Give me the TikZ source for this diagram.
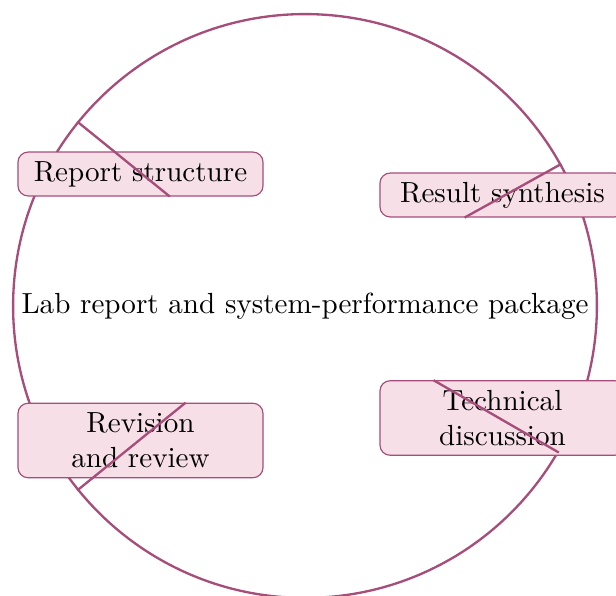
\documentclass[tikz,border=0pt]{standalone}
\usepackage{tikz}
\definecolor{plum}{RGB}{166,77,121}
\definecolor{rose}{RGB}{247,223,232}

\begin{document}
\begin{tikzpicture}[x=0.3436pt,y=-0.3436pt,
        box/.style={rectangle, rounded corners=3.5pt, draw=plum, fill=rose,
                        line width=0.4pt, text width=78pt, align=center,
                        inner xsep=3.1pt, inner ysep=2.5pt, minimum height=15.1pt},
        spoke/.style={draw=plum, line width=0.8pt}]
            \useasboundingbox (0,0) rectangle (616,596);
            \node [circle, draw=plum, line width=0.8pt, inner sep=1pt,
                   minimum size=200.6pt] (hub) at (305,306)
                  {Lab report and system-performance package};
            \node [box] (rs) at (140.5,174) {Report structure};
            \node [box] (syn) at (502.5,195) {Result synthesis};
            \node [box, minimum height=25.6pt] (rev) at (140.5,440.5) {Revision\\and review};
            \node [box, minimum height=25.6pt] (tech) at (502.5,418) {Technical\\discussion};
            % spokes from the rim, cut at the box edges
            \draw [spoke] (hub.141) --
                  (intersection of hub.141--hub.center and rs.south west--rs.south east);
            \draw [spoke] (hub.29) --
                  (intersection of hub.29--hub.center and syn.south west--syn.south east);
            \draw [spoke] (hub.219) --
                  (intersection of hub.219--hub.center and rev.north west--rev.north east);
            \draw [spoke] (hub.330) --
                  (intersection of hub.330--hub.center and tech.north west--tech.north east);
        \end{tikzpicture}
\end{document}
